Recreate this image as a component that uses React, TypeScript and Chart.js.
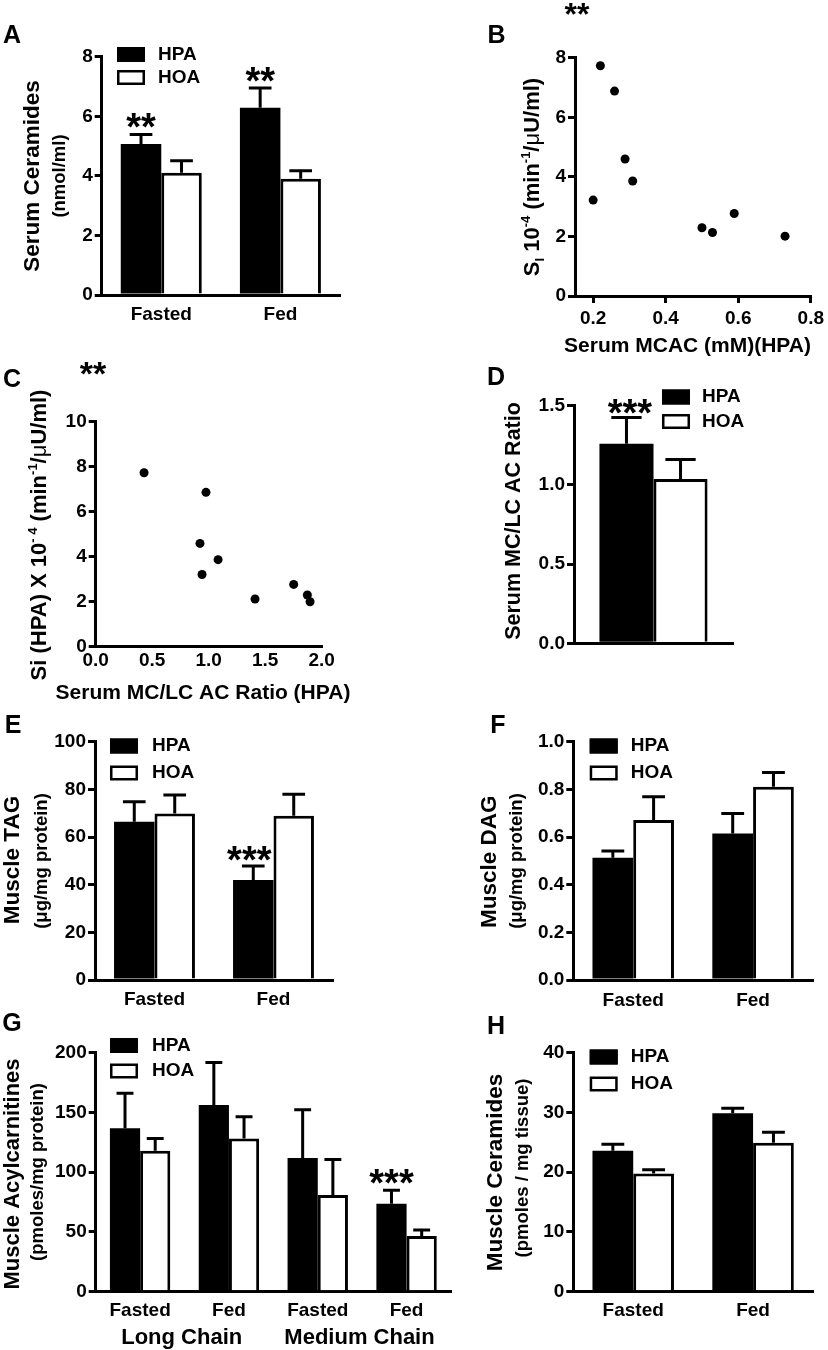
import React, { useEffect, useRef } from "react";
import { Chart, registerables } from "chart.js";
Chart.register(...registerables);

const FONT = "'Liberation Sans', Arial, Helvetica, sans-serif";
Chart.defaults.font.family = FONT;
Chart.defaults.color = "#000";

// ---------------- DATA ----------------
const seriesNames = ["HPA", "HOA"];
const seriesFills = ["#000000", "#ffffff"];
const seriesBorders = [0, 3];
const mealStates = ["Fasted", "Fed"];

// A: Serum ceramides (nmol/ml)
const serumCerHPA = [5.07, 6.29];
const serumCerHPASem = [0.32, 0.66];
const serumCerHOA = [4.1, 3.9];
const serumCerHOASem = [0.41, 0.27];
const serumCerSig = ["**", "**"];
const serumCerTicks = [0, 2, 4, 6, 8];

// B: SI vs serum MCAC (HPA)
const serumMcacHPA = [0.2, 0.22, 0.259, 0.288, 0.309, 0.5, 0.529, 0.589, 0.729];
const siByMcac = [3.22, 7.73, 6.88, 4.6, 3.86, 2.29, 2.13, 2.77, 2.01];
const mcacTicks = [0.2, 0.4, 0.6, 0.8];
const siTicksB = [0, 2, 4, 6, 8];
const sigB = "**";

// C: Si vs serum MC/LC AC ratio (HPA)
const mcLcRatioHPA = [0.428, 0.976, 0.923, 1.083, 0.941, 1.41, 1.752, 1.873, 1.897];
const siByRatio = [7.73, 6.86, 4.59, 3.87, 3.21, 2.12, 2.77, 2.3, 2.0];
const ratioTicksC = [0, 0.5, 1, 1.5, 2];
const siTicksC = [0, 2, 4, 6, 8, 10];
const sigC = "**";

// D: Serum MC/LC AC ratio
const ratioCategory = [""];
const ratioHPA = [1.26];
const ratioHPASem = [0.165];
const ratioHOA = [1.037];
const ratioHOASem = [0.124];
const ratioSig = ["***"];
const ratioTicksD = [0, 0.5, 1, 1.5];

// E: Muscle TAG
const tagHPA = [66.4, 42.0];
const tagHPASem = [8.4, 5.8];
const tagHOA = [69.9, 68.95];
const tagHOASem = [7.7, 9.05];
const tagSig = ["", "***"];
const tagTicks = [0, 20, 40, 60, 80, 100];

// F: Muscle DAG
const dagHPA = [0.513, 0.615];
const dagHPASem = [0.028, 0.084];
const dagHOA = [0.671, 0.811];
const dagHOASem = [0.098, 0.06];
const dagTicks = [0, 0.2, 0.4, 0.6, 0.8, 1.0];

// G: Muscle acylcarnitines
const acylCategories = ["Fasted", "Fed", "Fasted", "Fed"];
const chainGroups = ["Long Chain", "Medium Chain"];
const acylHPA = [136.7, 156.2, 111.9, 73.6];
const acylHPASem = [29.3, 35.7, 40.4, 11.2];
const acylHOA = [118, 128.3, 80.9, 46.6];
const acylHOASem = [10.3, 18.1, 29.8, 5.0];
const acylSig = ["", "", "", "***"];
const acylTicks = [0, 50, 100, 150, 200];

// H: Muscle ceramides
const musCerHPA = [23.6, 29.85];
const musCerHPASem = [1.06, 0.85];
const musCerHOA = [19.8, 24.94];
const musCerHOASem = [0.6, 1.76];
const musCerTicks = [0, 10, 20, 30, 40];

// ---------------- TYPES ----------------
type Seg = { t: string; size: number; weight?: string; dy?: number };
type Txt = {
  t: string;
  x: number;
  y: number;
  size: number;
  weight?: string;
  rot?: boolean;
  star?: boolean;
  rich?: Seg[];
};
type Panel = {
  key: string;
  kind: "bar" | "scatter";
  box: [number, number, number, number];
  area: [number, number, number, number];
  yTicks: number[];
  yDec: number;
  texts: Txt[];
  labels?: string[];
  hpa?: number[];
  hpaSem?: number[];
  hoa?: number[];
  hoaSem?: number[];
  sig?: string[];
  sigDx?: number;
  sigDy?: number;
  legend?: { x: number; y: [number, number]; textX: number };
  xPad?: number;
  xs?: number[];
  ys?: number[];
  xMin?: number;
  xMax?: number;
  xTicks?: number[];
  xDec?: number;
  xTickMarks?: boolean;
};

const siRich = (lead: string, supA: string): Seg[] => [
  { t: lead, size: 22 },
  { t: supA, size: 13, dy: -9 },
  { t: " (min", size: 22 },
  { t: "-1", size: 13, dy: -9 },
  { t: "/", size: 22 },
  { t: "\u03bc", size: 22, weight: "normal" },
  { t: "U/ml)", size: 22 },
];

const panels: Panel[] = [
  {
    key: "A",
    kind: "bar",
    box: [0, 0, 414, 340],
    area: [101.7, 56.7, 340, 295],
    labels: mealStates,
    hpa: serumCerHPA,
    hpaSem: serumCerHPASem,
    hoa: serumCerHOA,
    hoaSem: serumCerHOASem,
    sig: serumCerSig,
    sigDy: 6,
    yTicks: serumCerTicks,
    yDec: 0,
    legend: { x: 117, y: [54.5, 77.5], textX: 158 },
    xPad: 8,
    texts: [
      { t: "A", x: 12, y: 36, size: 25 },
      { t: "Serum Ceramides", x: 33, y: 176, size: 22.5, rot: true },
      { t: "(nmol/ml)", x: 60, y: 176, size: 18.5, rot: true },
    ],
  },
  {
    key: "B",
    kind: "scatter",
    box: [414, 0, 414, 360],
    area: [575, 57.7, 813, 296],
    xs: serumMcacHPA,
    ys: siByMcac,
    xMin: 0.15,
    xMax: 0.8,
    xTicks: mcacTicks,
    xDec: 1,
    xTickMarks: true,
    xPad: 4,
    yTicks: siTicksB,
    yDec: 0,
    texts: [
      { t: "B", x: 496.5, y: 36, size: 25 },
      { t: sigB, x: 577, y: 7.5, size: 32, star: true },
      {
        t: "",
        x: 531,
        y: 177,
        size: 22,
        rot: true,
        rich: [
          { t: "S", size: 22 },
          { t: "I", size: 13, dy: 5 },
          { t: " 10", size: 22 },
          { t: "-4", size: 13, dy: -9 },
          { t: " (min", size: 22 },
          { t: "-1", size: 13, dy: -9 },
          { t: "/", size: 22 },
          { t: "\u03bc", size: 22, weight: "normal" },
          { t: "U/ml)", size: 22 },
        ],
      },
      { t: "Serum MCAC (mM)(HPA)", x: 687.5, y: 346, size: 21 },
    ],
  },
  {
    key: "C",
    kind: "scatter",
    box: [0, 340, 414, 370],
    area: [95.7, 421.7, 321.7, 646.7],
    xs: mcLcRatioHPA,
    ys: siByRatio,
    xMin: 0,
    xMax: 2,
    xTicks: ratioTicksC,
    xDec: 1,
    xTickMarks: false,
    xPad: 3,
    yTicks: siTicksC,
    yDec: 0,
    texts: [
      { t: "C", x: 12, y: 380, size: 25 },
      { t: sigC, x: 93, y: 366, size: 34, star: true },
      { t: "", x: 38.5, y: 535, size: 22, rot: true, rich: siRich("Si (HPA) X 10", "- 4") },
      { t: "Serum MC/LC AC Ratio (HPA)", x: 203, y: 693, size: 21 },
    ],
  },
  {
    key: "D",
    kind: "bar",
    box: [414, 360, 414, 320],
    area: [574, 405.7, 733, 643.3],
    labels: ratioCategory,
    hpa: ratioHPA,
    hpaSem: ratioHPASem,
    hoa: ratioHOA,
    hoaSem: ratioHOASem,
    sig: ratioSig,
    sigDx: 3.5,
    sigDy: 8,
    yTicks: ratioTicksD,
    yDec: 1,
    legend: { x: 662, y: [397, 421.5], textX: 702 },
    xPad: 8,
    texts: [
      { t: "D", x: 496, y: 378, size: 25 },
      { t: "Serum MC/LC AC Ratio", x: 514, y: 521, size: 21.5, rot: true },
    ],
  },
  {
    key: "E",
    kind: "bar",
    box: [0, 700, 414, 320],
    area: [95, 741.7, 333, 980],
    labels: mealStates,
    hpa: tagHPA,
    hpaSem: tagHPASem,
    hoa: tagHOA,
    hoaSem: tagHOASem,
    sig: tagSig,
    sigDx: -4,
    sigDy: 7,
    yTicks: tagTicks,
    yDec: 0,
    legend: { x: 110, y: [746, 773], textX: 152 },
    xPad: 8,
    texts: [
      { t: "E", x: 13, y: 726, size: 25 },
      { t: "Muscle TAG", x: 13, y: 860, size: 22.5, rot: true },
      { t: "(\u03bcg/mg protein)", x: 42, y: 861, size: 18.5, rot: true },
    ],
  },
  {
    key: "F",
    kind: "bar",
    box: [414, 680, 414, 340],
    area: [573.3, 741.7, 813, 980],
    labels: mealStates,
    hpa: dagHPA,
    hpaSem: dagHPASem,
    hoa: dagHOA,
    hoaSem: dagHOASem,
    yTicks: dagTicks,
    yDec: 1,
    legend: { x: 589.7, y: [746, 773], textX: 630.7 },
    xPad: 9,
    texts: [
      { t: "F", x: 498, y: 726, size: 25 },
      { t: "Muscle DAG", x: 490, y: 861.7, size: 22.5, rot: true },
      { t: "(\u03bcg/mg protein)", x: 517, y: 861, size: 18.5, rot: true },
    ],
  },
  {
    key: "G",
    kind: "bar",
    box: [0, 1010, 470, 340],
    area: [95.7, 1052.7, 451, 1291.7],
    labels: acylCategories,
    hpa: acylHPA,
    hpaSem: acylHPASem,
    hoa: acylHOA,
    hoaSem: acylHOASem,
    sig: acylSig,
    sigDy: 6,
    yTicks: acylTicks,
    yDec: 0,
    legend: { x: 110, y: [1045.5, 1071], textX: 152 },
    xPad: 8,
    texts: [
      { t: "G", x: 12, y: 1024, size: 25 },
      { t: "Muscle Acylcarnitines", x: 13, y: 1174, size: 22, rot: true },
      { t: "(pmoles/mg protein)", x: 37.6, y: 1172, size: 18.5, rot: true },
      { t: chainGroups[0], x: 181.7, y: 1337.5, size: 22 },
      { t: chainGroups[1], x: 359.5, y: 1337.5, size: 22 },
    ],
  },
  {
    key: "H",
    kind: "bar",
    box: [414, 1010, 414, 340],
    area: [573.3, 1052.7, 813, 1291.7],
    labels: mealStates,
    hpa: musCerHPA,
    hpaSem: musCerHPASem,
    hoa: musCerHOA,
    hoaSem: musCerHOASem,
    yTicks: musCerTicks,
    yDec: 0,
    legend: { x: 589.7, y: [1057, 1084], textX: 630.7 },
    xPad: 8,
    texts: [
      { t: "H", x: 496, y: 1027.5, size: 25 },
      { t: "Muscle Ceramides", x: 495.7, y: 1172.5, size: 22.5, rot: true },
      { t: "(pmoles / mg tissue)", x: 523, y: 1168, size: 18.5, rot: true },
    ],
  },
];

// ---------------- DRAW HELPERS ----------------
function drawRich(ctx: CanvasRenderingContext2D, segs: Seg[]) {
  const fontOf = (s: Seg) => `${s.weight ?? "bold"} ${s.size}px ${FONT}`;
  let total = 0;
  const widths = segs.map((s) => {
    ctx.font = fontOf(s);
    const w = ctx.measureText(s.t).width;
    total += w;
    return w;
  });
  const base = 0.358 * segs[0].size;
  let cx = -total / 2;
  ctx.textAlign = "left";
  ctx.textBaseline = "alphabetic";
  segs.forEach((s, i) => {
    ctx.font = fontOf(s);
    ctx.fillText(s.t, cx, base + (s.dy ?? 0));
    cx += widths[i];
  });
}

function overlayPlugin(p: Panel) {
  const [bx, by] = p.box;
  return {
    id: "overlay" + p.key,
    afterDatasetsDraw(chart: any) {
      if (p.kind !== "bar") return;
      const ctx: CanvasRenderingContext2D = chart.ctx;
      const y = chart.scales.y;
      const vals = [p.hpa!, p.hoa!];
      const sems = [p.hpaSem!, p.hoaSem!];
      ctx.save();
      ctx.strokeStyle = "#000";
      ctx.lineWidth = 3;
      ctx.lineCap = "butt";
      [0, 1].forEach((di) => {
        const meta = chart.getDatasetMeta(di);
        meta.data.forEach((bar: any, i: number) => {
          const top = y.getPixelForValue(vals[di][i]);
          const errY = y.getPixelForValue(vals[di][i] + sems[di][i]);
          const half = bar.width * 0.28;
          ctx.beginPath();
          ctx.moveTo(bar.x, top);
          ctx.lineTo(bar.x, errY);
          ctx.moveTo(bar.x - half, errY);
          ctx.lineTo(bar.x + half, errY);
          ctx.stroke();
        });
      });
      if (p.sig) {
        const meta = chart.getDatasetMeta(0);
        ctx.fillStyle = "#000";
        ctx.font = `bold 38px ${FONT}`;
        ctx.textAlign = "center";
        ctx.textBaseline = "alphabetic";
        p.sig.forEach((s, i) => {
          if (!s) return;
          const bar = meta.data[i];
          const errY = y.getPixelForValue(p.hpa![i] + p.hpaSem![i]);
          ctx.fillText(s, bar.x + (p.sigDx ?? 0), errY + (p.sigDy ?? 6));
        });
      }
      ctx.restore();
    },
    afterDraw(chart: any) {
      const ctx: CanvasRenderingContext2D = chart.ctx;
      ctx.save();
      if (p.legend) {
        const { x, y, textX } = p.legend;
        chart.data.datasets.forEach((ds: any, k: number) => {
          const cy = y[k] - by;
          const lx = x - bx;
          ctx.fillStyle = ds.backgroundColor;
          ctx.fillRect(lx, cy - 7.5, 28, 15);
          ctx.strokeStyle = "#000";
          ctx.lineWidth = 2.5;
          ctx.strokeRect(lx + 1.25, cy - 6.25, 25.5, 12.5);
          ctx.fillStyle = "#000";
          ctx.font = `bold 19px ${FONT}`;
          ctx.textAlign = "left";
          ctx.textBaseline = "middle";
          ctx.fillText(ds.label, textX - bx, cy);
        });
      }
      for (const t of p.texts) {
        ctx.save();
        ctx.translate(t.x - bx, t.y - by);
        if (t.rot) ctx.rotate(-Math.PI / 2);
        ctx.fillStyle = "#000";
        if (t.rich) {
          drawRich(ctx, t.rich);
        } else {
          ctx.font = `${t.weight ?? "bold"} ${t.size}px ${FONT}`;
          ctx.textAlign = "center";
          if (t.star) {
            ctx.textBaseline = "alphabetic";
            ctx.fillText(t.t, 0, 0.56 * t.size);
          } else {
            ctx.textBaseline = "middle";
            ctx.fillText(t.t, 0, 0);
          }
        }
        ctx.restore();
      }
      ctx.restore();
    },
  };
}

function makeConfig(p: Panel): any {
  const [bx, by, bw, bh] = p.box;
  const [al, at, ar, ab] = p.area;
  const tickFont = { size: 19, weight: "bold" as const, family: FONT };
  const yAxis: any = {
    type: "linear",
    min: p.yTicks[0],
    max: p.yTicks[p.yTicks.length - 1],
    z: 1,
    afterBuildTicks: (s: any) => {
      s.ticks = p.yTicks.map((v) => ({ value: v }));
    },
    afterFit: (s: any) => {
      s.width = al - bx;
    },
    grid: {
      drawOnChartArea: false,
      drawTicks: true,
      tickLength: 7,
      tickWidth: 3,
      tickColor: "#000",
      lineWidth: 3,
      color: "#000",
    },
    border: { display: true, color: "#000", width: 3 },
    ticks: {
      color: "#000",
      padding: 2,
      font: tickFont,
      callback: (v: any) => Number(v).toFixed(p.yDec),
    },
  };
  let xAxis: any;
  if (p.kind === "bar") {
    xAxis = {
      type: "category",
      z: 1,
      grid: { display: false, drawTicks: false },
      border: { display: true, color: "#000", width: 3 },
      ticks: { color: "#000", padding: p.xPad ?? 8, font: tickFont, maxRotation: 0, autoSkip: false },
      afterFit: (s: any) => {
        s.height = by + bh - ab;
      },
    };
  } else {
    xAxis = {
      type: "linear",
      min: p.xMin,
      max: p.xMax,
      z: 1,
      afterBuildTicks: (s: any) => {
        s.ticks = p.xTicks!.map((v) => ({ value: v }));
      },
      afterFit: (s: any) => {
        s.height = by + bh - ab;
      },
      grid: {
        drawOnChartArea: false,
        drawTicks: !!p.xTickMarks,
        tickLength: 7,
        tickWidth: 3,
        tickColor: "#000",
        lineWidth: 3,
        color: "#000",
      },
      border: { display: true, color: "#000", width: 3 },
      ticks: {
        color: "#000",
        padding: p.xPad ?? 4,
        font: tickFont,
        maxRotation: 0,
        autoSkip: false,
        callback: (v: any) => Number(v).toFixed(p.xDec ?? 0),
      },
    };
  }
  const data =
    p.kind === "bar"
      ? {
          labels: p.labels,
          datasets: [p.hpa!, p.hoa!].map((vals, k) => ({
            label: seriesNames[k],
            data: vals,
            backgroundColor: seriesFills[k],
            borderColor: "#000",
            borderWidth: seriesBorders[k],
            categoryPercentage: 0.68,
            barPercentage: 1,
          })),
        }
      : {
          datasets: [
            {
              label: "HPA",
              data: p.xs!.map((x, i) => ({ x, y: p.ys![i] })),
              backgroundColor: "#000",
              borderColor: "#000",
              borderWidth: 0,
              pointRadius: 4.5,
            },
          ],
        };
  return {
    type: p.kind,
    data,
    options: {
      responsive: false,
      maintainAspectRatio: false,
      animation: false,
      devicePixelRatio: 1,
      layout: { padding: { left: 0, top: at - by, right: bx + bw - ar, bottom: 0 } },
      plugins: { legend: { display: false }, tooltip: { enabled: false } },
      scales: { x: xAxis, y: yAxis },
    },
    plugins: [overlayPlugin(p)],
  };
}

function PanelChart({ p }: { p: Panel }) {
  const ref = useRef<HTMLCanvasElement>(null);
  useEffect(() => {
    const chart = new Chart(ref.current as HTMLCanvasElement, makeConfig(p));
    return () => chart.destroy();
  }, [p]);
  const [x, y, w, h] = p.box;
  return (
    <canvas
      ref={ref}
      width={w}
      height={h}
      style={{ position: "absolute", left: x, top: y, width: w, height: h }}
    />
  );
}

export default function App() {
  return (
    <div
      style={{
        position: "absolute",
        left: 0,
        top: 0,
        width: 828,
        height: 1350,
        background: "#fff",
        overflow: "hidden",
      }}
    >
      {panels.map((p) => (
        <PanelChart key={p.key} p={p} />
      ))}
    </div>
  );
}
